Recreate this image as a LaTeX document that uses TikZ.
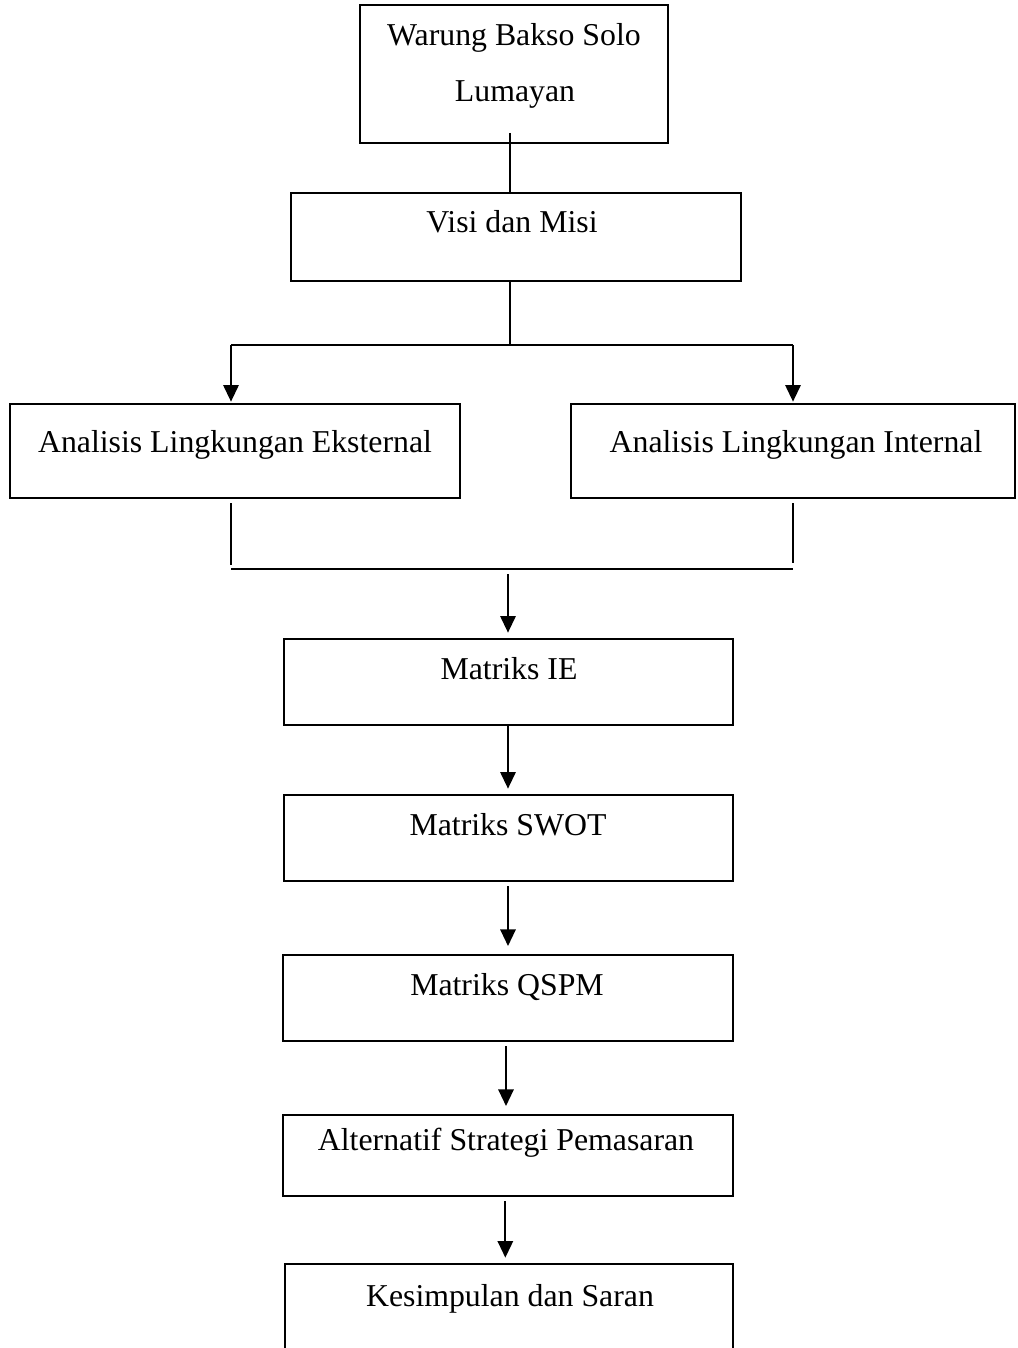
\documentclass[tikz,border=0pt]{standalone}
\usepackage{fontspec}
\setmainfont{Liberation Serif}
\usetikzlibrary{fit,arrows.meta}
\begin{document}
\begin{tikzpicture}[x=0.75pt,y=-0.75pt,
  box/.style={draw, line width=1.5pt, inner sep=0pt, rectangle},
  txt/.style={anchor=base, inner sep=0pt, font=\fontsize{23.85}{28}\selectfont},
  thin/.style={line width=1.1pt},
  conn/.style={line width=1.6pt},
  arr/.style={line width=1.6pt, -{Triangle[width=11.5pt,length=12.5pt]}}]
\useasboundingbox (0,0) rectangle (1017,1348);
\clip (0,0) rectangle (1017,1348);
% boxes
\node[box, fit={(360,5)(668,143)}] (warung) {};
\node[box, fit={(291,193)(741,281)}] (visi) {};
\node[box, fit={(10,404)(460,498)}] (ext) {};
\node[box, fit={(571,404)(1015,498)}] (int) {};
\node[box, fit={(284,639)(733,725)}] (ie) {};
\node[box, fit={(284,795)(733,881)}] (swot) {};
\node[box, fit={(283,955)(733,1041)}] (qspm) {};
\node[box, fit={(283,1115)(733,1196)}] (alt) {};
\node[box, fit={(285,1264)(733,1380)}] (kes) {};
% texts
\node[txt] (t1a) at (514,46) {Warung Bakso Solo};
\node[txt] (t1b) at (515,102) {Lumayan};
\node[txt] (t2) at (512,233) {Visi dan Misi};
\node[txt] (t3) at (235,452) {Analisis Lingkungan Eksternal};
\node[txt] (t4) at (796,452) {Analisis Lingkungan Internal};
\node[txt] (t5) at (509,679) {Matriks IE};
\node[txt] (t6) at (508,835) {Matriks SWOT};
\node[txt] (t7) at (507,995) {Matriks QSPM};
\node[txt] (t8) at (506,1150) {Alternatif Strategi Pemasaran};
\node[txt] (t9) at (510,1306) {Kesimpulan dan Saran};
% coordinates
\coordinate (w0) at (510,133);
\coordinate (v0) at (510,281);
\coordinate (vj) at (510,345);
\coordinate (jl) at (231,345);
\coordinate (jr) at (793,345);
\coordinate (el) at (231,503);
\coordinate (elb) at (231,565);
\coordinate (ir) at (793,503);
\coordinate (irb) at (793,563);
\coordinate (hl) at (231,569);
\coordinate (hr) at (793,569);
\coordinate (m0) at (508,574);
% connectors
\draw[thin] (w0) -- (visi.north -| w0);
\draw[thin] (v0) -- (vj);
\draw[conn] (jl) -- (jr);
\draw[arr] (jl) -- ([yshift=1pt]ext.north -| jl);
\draw[arr] (jr) -- ([yshift=1pt]int.north -| jr);
\draw[thin] (el) -- (elb);
\draw[thin] (ir) -- (irb);
\draw[conn] (hl) -- (hr);
\draw[arr] (m0) -- ([yshift=4pt]ie.north -| m0);
\draw[arr] (ie.south -| m0) -- ([yshift=4pt]swot.north -| m0);
\draw[arr] ([yshift=-3pt]swot.south -| m0) -- ([yshift=6pt]qspm.north -| m0);
\draw[arr] ([xshift=-1.5pt,yshift=-3pt]qspm.south -| m0) -- ([xshift=-1.5pt,yshift=6pt]alt.north -| m0);
\draw[arr] ([xshift=-2pt,yshift=-3pt]alt.south -| m0) -- ([xshift=-2pt,yshift=4pt]kes.north -| m0);
\end{tikzpicture}
\end{document}
